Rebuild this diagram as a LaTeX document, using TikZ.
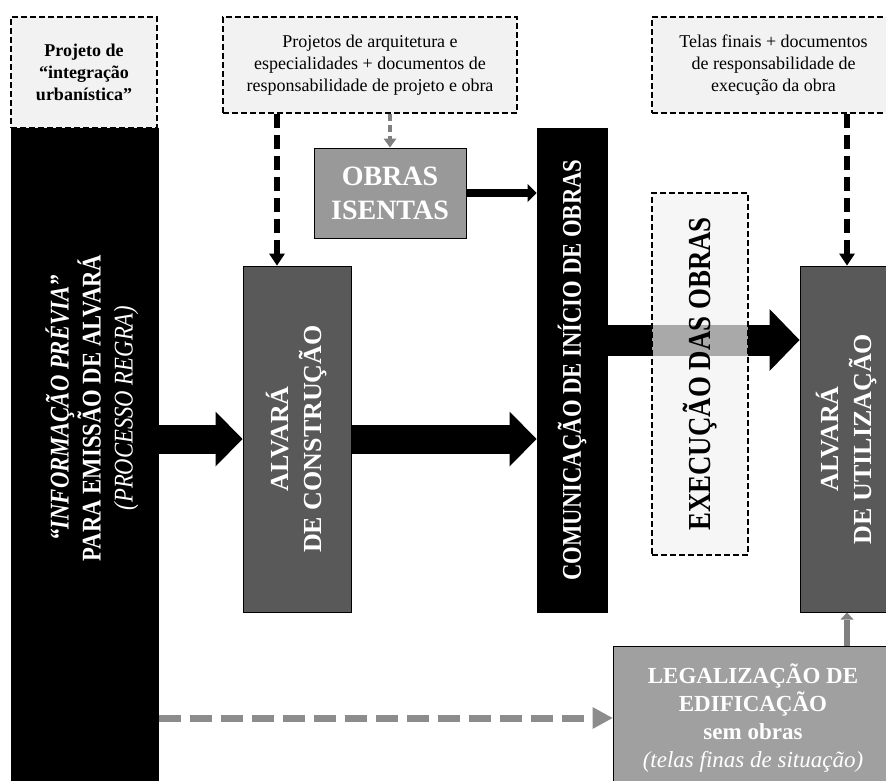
\documentclass[tikz,border=0pt]{standalone}
\usepackage{fontspec}
\setmainfont{Liberation Serif}
\newfontfamily\narrowserif[FakeStretch=0.84]{Liberation Serif}
\usetikzlibrary{arrows.meta}
\definecolor{notefill}{RGB}{242,242,242}
\definecolor{darkfill}{RGB}{89,89,89}
\definecolor{isentafill}{RGB}{153,153,153}
\definecolor{legalfill}{RGB}{160,160,160}
\definecolor{greyarrow}{RGB}{128,128,128}
\definecolor{dashgrey}{RGB}{140,140,140}
\begin{document}
\begin{tikzpicture}[x=1pt,y=-1pt,
		notebox/.style={draw,line width=1.2pt,dash pattern=on 6pt off 3pt,fill=notefill,align=center,inner sep=0pt,font=\fontsize{18}{22}\selectfont},
		solidbox/.style={draw,line width=1pt,inner sep=0pt},
		vlabel/.style={rotate=90,align=center,inner sep=0pt},
		flow/.style={line width=29pt,-{Triangle[length=27pt,width=55pt,line width=0pt]}},
		bigflow/.style={line width=31pt,-{Triangle[length=30pt,width=62pt,line width=0pt]}},
		smallflow/.style={line width=8pt,-{Triangle[length=9pt,width=18pt,line width=0pt]}},
		blackdash/.style={line width=6pt,dash pattern=on 14pt off 7pt,-{Triangle[length=12pt,width=16pt,line width=0pt]}},
		greydash/.style={greyarrow,line width=3.5pt,dash pattern=on 7pt off 4pt,-{Triangle[length=9pt,width=13pt,line width=0pt]}},
		legaldash/.style={dashgrey,line width=7pt,dash pattern=on 22pt off 9pt,-{Triangle[length=20pt,width=22pt,line width=0pt]}},
		greyflow/.style={greyarrow,line width=6pt,-{Triangle[length=7pt,width=13pt,line width=0pt]}}]
		\useasboundingbox (0,0) rectangle (886,780);
		\node[solidbox,fill=black,minimum width=147pt,minimum height=672pt] (info) at (84.5,464) {};
		\node[vlabel,text=white,font=\narrowserif\fontsize{27}{32}\selectfont] at (92,408) {\textbf{\textit{“INFORMAÇÃO PRÉVIA”}}\\\textbf{PARA EMISSÃO DE ALVARÁ}\\\textit{(PROCESSO REGRA)}};
		\node[notebox,minimum width=146pt,minimum height=111pt,font=\bfseries\fontsize{18}{22}\selectfont] (urban) at (84,72.5) {Projeto de\\“integração\\urbanística”};
		\node[notebox,minimum width=294pt,minimum height=96pt] (projetos) at (370,65) {Projetos de arquitetura e\\especialidades + documentos de\\responsabilidade de projeto e obra};
		\node[notebox,minimum width=243pt,minimum height=96pt] (telas) at (773.5,65) {Telas finais + documentos\\de responsabilidade de\\execução da obra};
		\node[solidbox,fill=isentafill,minimum width=152pt,minimum height=90pt,text=white,align=center,font=\bfseries\fontsize{28}{34}\selectfont] (isentas) at (390,193) {OBRAS\\ISENTAS};
		\node[solidbox,fill=black,minimum width=70pt,minimum height=484pt] (comun) at (572,370) {};
		\node[vlabel,text=white,font=\narrowserif\bfseries\fontsize{27}{32}\selectfont] at (comun) {COMUNICAÇÃO DE INÍCIO DE OBRAS};
		\node[solidbox,fill=darkfill,minimum width=108pt,minimum height=346pt] (constr) at (297,439) {};
		\node[vlabel,text=white,font=\bfseries\fontsize{26}{33}\selectfont] at (constr) {ALVARÁ\\DE CONSTRUÇÃO};
		\node[solidbox,fill=darkfill,minimum width=94pt,minimum height=346pt] (util) at (847,439) {};
		\node[vlabel,text=white,font=\bfseries\fontsize{26}{33}\selectfont] at (util) {ALVARÁ\\DE UTILIZAÇÃO};
		\node[solidbox,fill=legalfill,minimum width=280pt,minimum height=144pt,text=white,align=center,font=\fontsize{23}{28}\selectfont] (legal) at (753,718) {\textbf{LEGALIZAÇÃO DE}\\\textbf{EDIFICAÇÃO}\\\textbf{sem obras}\\\textit{(telas finas de situação)}};
		\coordinate (feed) at ([xshift=-20pt]constr.north);
		\coordinate (flowline) at (0,340);
		\draw[flow] (info.east |- constr) -- (constr.west);
		\draw[flow] (constr.east) -- (constr.east -| comun.west);
		\draw[bigflow] (comun.east |- flowline) -- (util.west |- flowline);
		\draw[smallflow] (isentas.east) -- (isentas.east -| comun.west);
		\draw[blackdash] (projetos.south -| feed) -- (feed);
		\draw[blackdash] (telas.south -| util.north) -- (util.north);
		\draw[greydash] (projetos.south -| isentas.north) -- (isentas.north);
		\draw[greyflow] (legal.north -| util.south) -- (util.south);
		\draw[legaldash] (info.east |- legal.west) -- (legal.west);
		\node[notebox,fill opacity=0.7,text opacity=1,minimum width=96pt,minimum height=362pt] (exec) at (700,374) {};
		\node[vlabel,font=\narrowserif\bfseries\fontsize{32}{36}\selectfont] at (exec) {EXECUÇÃO DAS OBRAS};
\end{tikzpicture}
\end{document}
